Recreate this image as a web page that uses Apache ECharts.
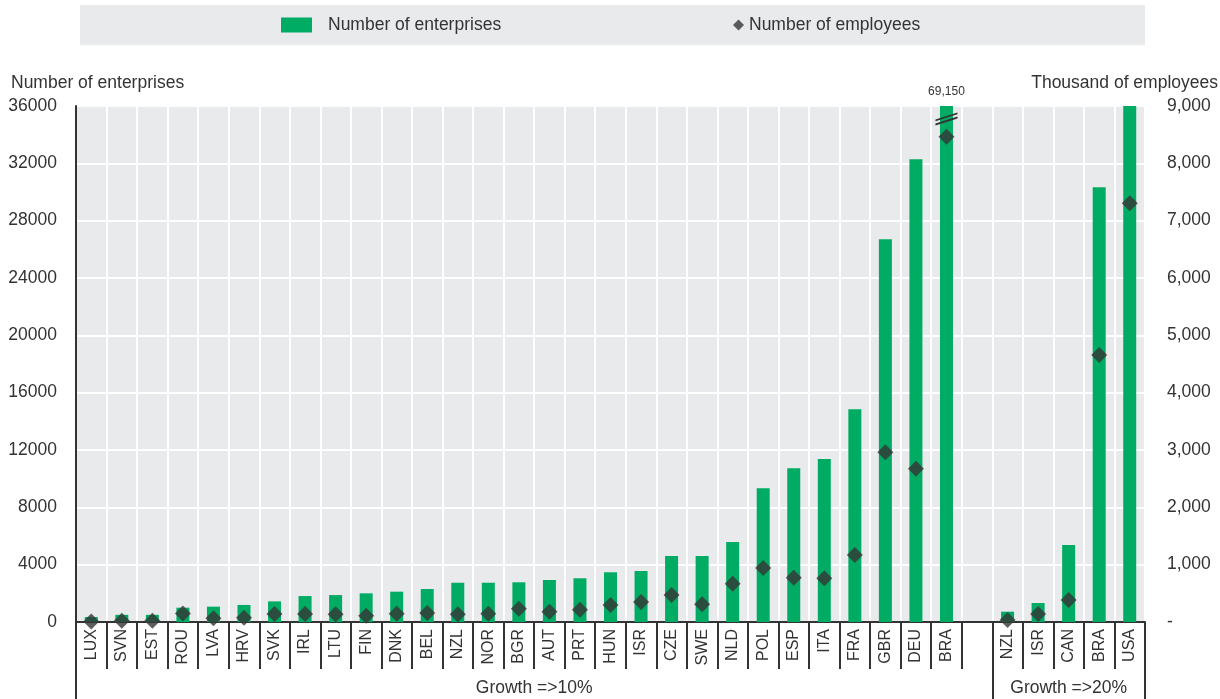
<!DOCTYPE html>
<html>
<head>
<meta charset="utf-8">
<script src="https://cdn.jsdelivr.net/npm/echarts@6/dist/echarts.min.js"></script>
<style>
html,body{margin:0;padding:0;background:#fff;}
#chart{width:1220px;height:699px;}
</style>
</head>
<body>
<div id="chart"></div>
<script>
// ---- data ----
var categories = ['LUX','SVN','EST','ROU','LVA','HRV','SVK','IRL','LTU','FIN','DNK','BEL','NZL','NOR','BGR','AUT','PRT','HUN','ISR','CZE','SWE','NLD','POL','ESP','ITA','FRA','GBR','DEU','BRA','',
                  'NZL','ISR','CAN','BRA','USA'];
var enterprises = [350,500,500,1000,1070,1190,1440,1810,1880,2000,2115,2300,2740,2740,2770,2930,3050,3470,3560,4600,4600,5580,9330,10720,11370,14850,26700,32280,69150,null,
                   720,1325,5370,30330,36000];
var employees = [10,20,20,150,65,75,140,140,135,110,145,157,134,145,232,180,215,297,349,471,308,668,942,773,762,1169,2960,2672,8465,null,
                 35,140,384,4657,7303];
var groupNames = ['Growth =>10%','Growth =>20%'];
var groupSizes = [30,5];
var leftTicks = [0,4000,8000,12000,16000,20000,24000,28000,32000,36000];
var rightTicks = [0,1000,2000,3000,4000,5000,6000,7000,8000,9000];
var seriesNames = ['Number of enterprises','Number of employees'];
var axisNames = ['Number of enterprises','Thousand of employees'];

// group boundaries / centers in category units
var bounds = [0], centers = [];
var acc = 0;
groupSizes.forEach(function(s){ centers.push(acc + s/2); acc += s; bounds.push(acc); });

var FONT = 'Liberation Sans, Arial, sans-serif';
var TXT = '#333333';
var GREEN = '#00ac63';
var BG = '#e9eaec';
var leftMax = leftTicks[leftTicks.length-1];

var chart = echarts.init(document.getElementById('chart'));
chart.setOption({
  animation: false,
  textStyle: {fontFamily: FONT, color: TXT},
  graphic: [{type:'rect', left:80, top:5, shape:{width:1065, height:40}, style:{fill:BG}, z:-10}],
  title: [
    {text: axisNames[0], left: 11, top: 74, textStyle:{fontFamily:FONT, fontSize:17.5, fontWeight:'normal', color:TXT}, padding:0},
    {text: axisNames[1], right: 2, top: 74, textStyle:{fontFamily:FONT, fontSize:17.5, fontWeight:'normal', color:TXT}, padding:0}
  ],
  legend: [
    {data:[{name: seriesNames[0], icon:'rect'}], left: 281, top: 16, itemWidth: 31, itemHeight: 15, padding: 0,
     textStyle:{fontFamily:FONT, fontSize:17.5, color:TXT, padding:[0,0,0,11]}},
    {data:[seriesNames[1]], left: 733, top: 16, itemWidth: 11, itemHeight: 11, padding: 0,
     textStyle:{fontFamily:FONT, fontSize:17.5, color:TXT}}
  ],
  grid: {left: 76, right: 75, top: 106, bottom: 77, show: true, backgroundColor: BG, borderWidth: 0, containLabel: false},
  xAxis: [
    {type:'category', data: categories, boundaryGap: true,
     axisLine:{show:true, lineStyle:{color:TXT, width:2}},
     axisTick:{show:true, interval:0, length:47, lineStyle:{color:TXT, width:2}},
     axisLabel:{interval:0, rotate:90, fontSize:16, color:TXT, fontFamily:FONT, margin:7},
     splitLine:{show:true, interval:0, lineStyle:{color:'#ffffff', width:2}}
    },
    {type:'value', position:'bottom', min: 0, max: bounds[bounds.length-1],
     axisLine:{show:false},
     axisTick:{show:true, customValues: bounds, length:77, lineStyle:{color:TXT, width:2}},
     axisLabel:{show:true, customValues: centers, margin:57, fontSize:17.5, color:TXT, fontFamily:FONT,
       formatter:function(v){ var i = centers.indexOf(v); return i>=0 ? groupNames[i] : ''; }},
     splitLine:{show:false}
    }
  ],
  yAxis: [
    {type:'value', min:0, max:leftMax, interval:4000,
     axisLine:{show:true, lineStyle:{color:TXT, width:2}},
     axisTick:{show:false},
     axisLabel:{fontSize:17.5, color:TXT, fontFamily:FONT, margin:19,
       formatter:function(v){ return String(v); }},
     splitLine:{show:true, lineStyle:{color:'#ffffff', width:2}}
    },
    {type:'value', min:0, max:rightTicks[rightTicks.length-1], interval:1000, position:'right',
     axisLine:{show:false}, axisTick:{show:false},
     axisLabel:{fontSize:17.5, color:TXT, fontFamily:FONT, margin:22, align:'left',
       formatter:function(v){ return v===0 ? '-' : v.toLocaleString('en-US'); }},
     splitLine:{show:false}
    }
  ],
  series: [
    {name: seriesNames[0], type:'bar', xAxisIndex:0, yAxisIndex:0, data: enterprises, barWidth: 13,
     itemStyle:{color:GREEN}, clip:true,
     label:{show:true, position:'top', distance:8, fontSize:12, color:TXT, fontFamily:FONT,
       formatter:function(p){ return p.value > leftMax ? p.value.toLocaleString('en-US') : ''; }},
     markPoint:{
       symbol:'path://M0,7 L20,0 L20,1.8 L0,8.8 Z M0,11.2 L20,4.2 L20,6 L0,13 Z',
       symbolSize:[22,13], symbolKeepAspect:false, itemStyle:{color:TXT}, label:{show:false},
       data: enterprises.map(function(v,i){ return v > leftMax ? {coord:[i, leftMax*0.975]} : null; }).filter(Boolean)
     }
    },
    {name: seriesNames[1], type:'scatter', xAxisIndex:0, yAxisIndex:1, data: employees,
     symbol:'diamond', symbolSize:16, itemStyle:{color:'#363636'}, z:5}
  ]
});
</script>
</body>
</html>
